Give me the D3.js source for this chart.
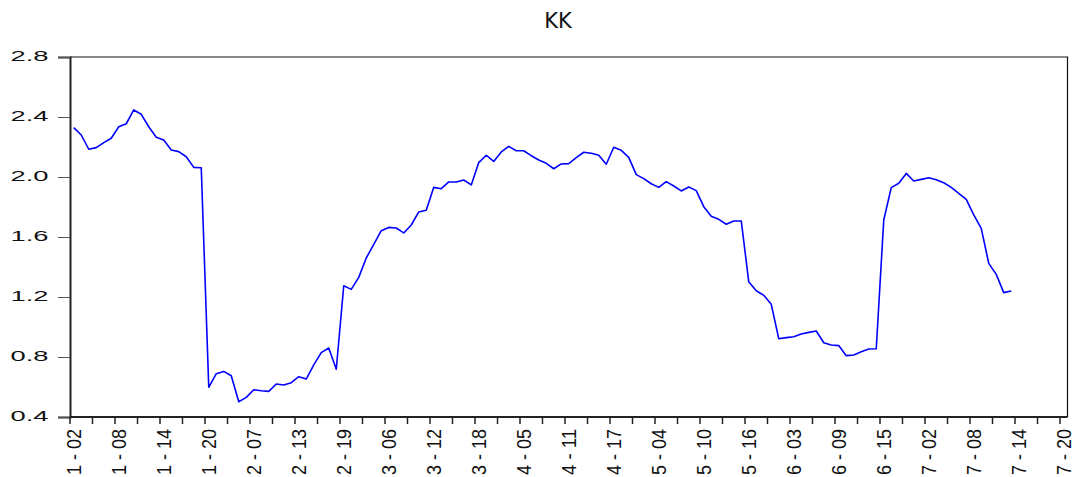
<!DOCTYPE html>
<html>
<head>
<meta charset="utf-8">
<script src="https://cdn.jsdelivr.net/npm/d3@7/dist/d3.min.js"></script>
<style>
  html, body { margin: 0; padding: 0; background: #fff; }
  svg { display: block; }
</style>
</head>
<body>
<svg id="chart" width="1083" height="477"></svg>
<script>
const title = "KK";
const values = [
  2.329, 2.28, 2.185, 2.196, 2.229, 2.258, 2.335, 2.355, 2.447, 2.418,
  2.335, 2.265, 2.247, 2.18, 2.169, 2.135, 2.064, 2.062, 0.598, 0.689,
  0.704, 0.675, 0.502, 0.531, 0.582, 0.575, 0.571, 0.62, 0.613, 0.629,
  0.669, 0.653, 0.747, 0.829, 0.86, 0.718, 1.275, 1.251, 1.331, 1.46,
  1.551, 1.642, 1.664, 1.66, 1.627, 1.68, 1.767, 1.778, 1.931, 1.922,
  1.967, 1.967, 1.98, 1.947, 2.096, 2.145, 2.104, 2.167, 2.204, 2.175,
  2.175, 2.142, 2.113, 2.091, 2.055, 2.087, 2.089, 2.129, 2.165, 2.158,
  2.145, 2.085, 2.198, 2.178, 2.131, 2.016, 1.989, 1.955, 1.931, 1.969,
  1.94, 1.907, 1.933, 1.909, 1.802, 1.738, 1.718, 1.685, 1.707, 1.707,
  1.302, 1.242, 1.211, 1.151, 0.922, 0.929, 0.935, 0.953, 0.964, 0.973,
  0.895, 0.88, 0.876, 0.809, 0.813, 0.835, 0.853, 0.855, 1.713, 1.929,
  1.958, 2.024, 1.973, 1.984, 1.995, 1.982, 1.962, 1.931, 1.891, 1.851,
  1.747, 1.658, 1.424, 1.351, 1.229, 1.24
];
const tickLabels = [
  "1 - 02", "1 - 08", "1 - 14", "1 - 20", "2 - 07", "2 - 13", "2 - 19",
  "3 - 06", "3 - 12", "3 - 18", "4 - 05", "4 - 11", "4 - 17", "5 - 04",
  "5 - 10", "5 - 16", "6 - 03", "6 - 09", "6 - 15", "7 - 02", "7 - 08",
  "7 - 14", "7 - 20"
];
const yTicks = [0.4, 0.8, 1.2, 1.6, 2.0, 2.4, 2.8];
const labelStep = 6;
const minorStep = 3;

const nCats = (tickLabels.length - 1) * labelStep + 1; // category slots on axis
const cats = d3.range(nCats);

const mLeft = 70, mRight = 1067.5, mTop = 57, mBottom = 417;
const svg = d3.select("#chart");

const x = d3.scaleBand().domain(cats).range([mLeft, mRight]).paddingInner(0).paddingOuter(0);
const bw = x.bandwidth();
const y = d3.scaleLinear().domain([0.4, 2.8]).range([mBottom, mTop]);

// Title
svg.append("text")
  .attr("x", 558).attr("y", 28)
  .attr("text-anchor", "middle")
  .attr("font-family", "DejaVu Sans, sans-serif")
  .attr("font-size", 21)
  .attr("fill", "#111")
  .text(title);

// Frame (top & right)
svg.append("path")
  .attr("d", `M${mLeft},${mTop}H${mRight}V${mBottom}`)
  .attr("fill", "none").attr("stroke", "#111").attr("stroke-width", 1.2);

// Y axis
const yAxis = d3.axisLeft(y).tickValues(yTicks).tickSize(12).tickFormat(d3.format(".1f"));
const gy = svg.append("g").attr("transform", `translate(${mLeft},0)`).call(yAxis);
gy.select(".domain").attr("stroke", "#222").attr("stroke-width", 2);
gy.selectAll(".tick line").attr("stroke", "#555").attr("stroke-width", 1);
gy.selectAll(".tick text")
  .attr("x", -21.5)
  .attr("dy", "0.25em")
  .attr("font-family", "Liberation Sans, Arial, sans-serif")
  .attr("font-size", 14.5)
  .attr("fill", "#111")
  .attr("textLength", 38)
  .attr("lengthAdjust", "spacingAndGlyphs");

// X axis
const minorIdx = cats.filter(i => i % minorStep === 0);
const xAxis = d3.axisBottom(x).tickValues(minorIdx).tickSize(7).tickFormat("");
const gx = svg.append("g").attr("transform", `translate(${-bw / 2},${mBottom})`).call(xAxis);
gx.select(".domain").remove();
gx.selectAll(".tick line").attr("stroke", "#222").attr("stroke-width", 1.5);
svg.append("line")
  .attr("x1", mLeft).attr("x2", mRight).attr("y1", mBottom).attr("y2", mBottom)
  .attr("stroke", "#222").attr("stroke-width", 2);

svg.append("g").selectAll("text")
  .data(tickLabels)
  .join("text")
  .attr("transform", (d, k) => `translate(${x(k * labelStep) + bw / 2 + 7.4},${429}) rotate(-90)`)
  .attr("text-anchor", "end")
  .attr("font-family", "Liberation Sans, Arial, sans-serif")
  .attr("font-size", 20.5)
  .attr("fill", "#111")
  .attr("textLength", 46)
  .attr("lengthAdjust", "spacingAndGlyphs")
  .text(d => d);

// Line
const line = d3.line()
  .x((d, i) => x(i) + bw / 2)
  .y(d => y(d));
svg.append("path")
  .datum(values)
  .attr("d", line)
  .attr("fill", "none")
  .attr("stroke", "#0000ff")
  .attr("stroke-width", 1.6)
  .attr("stroke-linejoin", "round");
</script>
</body>
</html>
